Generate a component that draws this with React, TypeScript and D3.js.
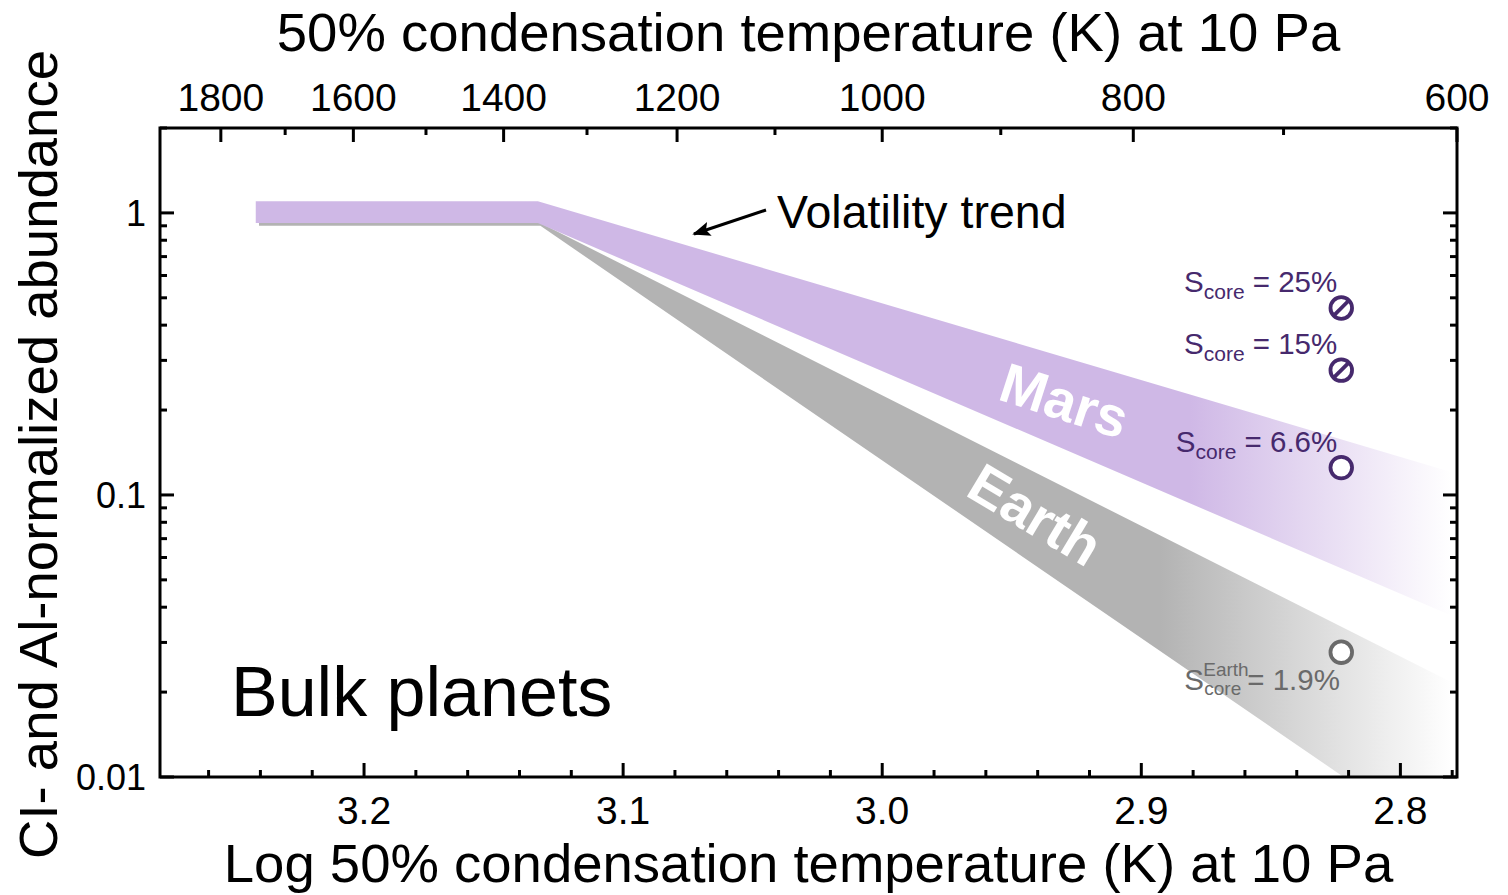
import React from "react";
import * as d3 from "d3";

// ---------- data ----------
// band edges: [condensation temperature (K), CI- and Al-normalized abundance]
const marsUpper: [number, number][] = [[1745, 1.1], [1358, 1.1], [600, 0.119]];
const marsLower: [number, number][] = [[1745, 0.92], [1358, 0.92], [600, 0.0366]];
const earthUpper: [number, number][] = [[1740, 0.92], [1355, 0.92], [600, 0.0212]];
const earthLower: [number, number][] = [[1740, 0.9], [1355, 0.9], [600, 0.0053]];

// sulfur-in-core markers at T ~ 665 K
const marsMarkerT = [665, 665, 665];
const marsMarkerV = [0.46, 0.277, 0.125];
const marsMarkerLabel = ["25%", "15%", "6.6%"];
const marsMarkerSlash = [true, true, false];
const earthMarkerT = 665;
const earthMarkerV = 0.0277;
const earthMarkerLabel = "1.9%";

// ticks
const topMajorT = [1800, 1600, 1400, 1200, 1000, 800, 600];
const topMinorT = [1700, 1500, 1300, 1100, 900, 700];
const bottomMajorLog = [3.2, 3.1, 3.0, 2.9, 2.8];
const bottomMinorLog = [3.26, 3.24, 3.22, 3.18, 3.16, 3.14, 3.12, 3.08, 3.06, 3.04, 3.02, 2.98, 2.96, 2.94, 2.92, 2.88, 2.86, 2.84, 2.82, 2.78];
const yMajor = [0.01, 0.1, 1];
const yMajorLabels = ["0.01", "0.1", "1"];
const yMinor = [0.02, 0.03, 0.04, 0.05, 0.06, 0.07, 0.08, 0.09, 0.2, 0.3, 0.4, 0.5, 0.6, 0.7, 0.8, 0.9, 2];

// ---------- layout ----------
const W = 1508, H = 895;
const L = 160, R = 1457, T = 128, B = 777;
const FONT = "'Liberation Sans', Arial, Helvetica, sans-serif";
const PURPLE = "#cfb8e6";
const GRAY = "#b3b3b3";
const DARK_PURPLE = "#46296d";
const DARK_GRAY = "#6a6a6a";

export default function App() {
  const x = d3.scaleLog().domain([1900, 600]).range([L, R]);
  const y = d3.scaleLog().domain([0.01, 2]).range([B, T]);
  const xl = (lg: number) => x(Math.pow(10, lg));

  const band = (up: [number, number][], lo: [number, number][]) =>
    d3
      .area<number>()
      .x((i) => x(up[i][0]))
      .y0((i) => y(lo[i][1]))
      .y1((i) => y(up[i][1]))(up.map((_, i) => i)) as string;

  const major = 14, minor = 7;
  const r = 10.8;

  return (
    <div style={{ position: "fixed", left: 0, top: 0 }}>
      <svg width={W} height={H} style={{ display: "block", background: "#fff" }} fontFamily={FONT}>
        <defs>
          <clipPath id="plot">
            <rect x={L} y={T} width={R - L} height={B - T} />
          </clipPath>
          <linearGradient id="marsGrad" gradientUnits="userSpaceOnUse" x1={1190} x2={1452} y1={0} y2={0}>
            <stop offset="0" stopColor={PURPLE} stopOpacity={1} />
            <stop offset="1" stopColor={PURPLE} stopOpacity={0} />
          </linearGradient>
          <linearGradient id="earthGrad" gradientUnits="userSpaceOnUse" x1={1160} x2={1452} y1={0} y2={0}>
            <stop offset="0" stopColor={GRAY} stopOpacity={1} />
            <stop offset="1" stopColor={GRAY} stopOpacity={0} />
          </linearGradient>
          <marker id="arrowHead" viewBox="0 0 10 10" refX={9} refY={5} markerWidth={6} markerHeight={6} markerUnits="strokeWidth" orient="auto">
            <path d="M0,1 L10,5 L0,9 L2,5 Z" fill="#000" />
          </marker>
        </defs>

        <g clipPath="url(#plot)">
          <path d={band(earthUpper, earthLower)} fill="url(#earthGrad)" />
          <path d={band(marsUpper, marsLower)} fill="url(#marsGrad)" />
        </g>

        {/* band labels */}
        <text x={1063} y={420} fill="#fff" fontWeight="bold" fontSize={56} textAnchor="middle" transform="rotate(18 1063 405)">Mars</text>
        <text x={1035} y={534} fill="#fff" fontWeight="bold" fontSize={56} textAnchor="middle" transform="rotate(31 1035 515)">Earth</text>

        {/* markers */}
        {marsMarkerV.map((v, i) => {
          const cx = x(marsMarkerT[i]), cy = y(v);
          return (
            <g key={i}>
              <circle cx={cx} cy={cy} r={r} fill="#fff" stroke={DARK_PURPLE} strokeWidth={3.8} />
              {marsMarkerSlash[i] && (
                <line x1={cx - r * 0.72} y1={cy + r * 0.72} x2={cx + r * 0.72} y2={cy - r * 0.72} stroke={DARK_PURPLE} strokeWidth={3.8} />
              )}
              <text x={cx - 4} y={cy - 16} fill={DARK_PURPLE} fontSize={29.5} textAnchor="end">
                <tspan>S</tspan>
                <tspan fontSize={21} dy={7}>core</tspan>
                <tspan dy={-7}>{" = " + marsMarkerLabel[i]}</tspan>
              </text>
            </g>
          );
        })}
        {(() => {
          const cx = x(earthMarkerT), cy = y(earthMarkerV);
          return (
            <g>
              <circle cx={cx} cy={cy} r={r} fill="#fff" stroke={DARK_GRAY} strokeWidth={3.8} />
              <text fill={DARK_GRAY} fontSize={29.5}>
                <tspan x={cx - 157} y={cy + 38}>S</tspan>
                <tspan x={cx - 138} y={cy + 24} fontSize={19}>Earth</tspan>
                <tspan x={cx - 137} y={cy + 43} fontSize={19}>core</tspan>
                <tspan x={cx - 94} y={cy + 38}>{"= " + earthMarkerLabel}</tspan>
              </text>
            </g>
          );
        })()}

        {/* annotations */}
        <line x1={766} y1={210} x2={694} y2={234} stroke="#000" strokeWidth={3} markerEnd="url(#arrowHead)" />
        <text x={777} y={228} fontSize={46.5} fill="#000">Volatility trend</text>
        <text x={231} y={716} fontSize={70} fill="#000">Bulk planets</text>

        {/* frame */}
        <rect x={L} y={T} width={R - L} height={B - T} fill="none" stroke="#000" strokeWidth={3} />

        {/* top axis */}
        {topMajorT.map((t) => (
          <g key={"tM" + t}>
            <line x1={x(t)} x2={x(t)} y1={T} y2={T + major} stroke="#000" strokeWidth={3} />
            <text x={x(t)} y={111} fontSize={39} textAnchor="middle">{t}</text>
          </g>
        ))}
        {topMinorT.map((t) => (
          <line key={"tm" + t} x1={x(t)} x2={x(t)} y1={T} y2={T + minor} stroke="#000" strokeWidth={3} />
        ))}

        {/* bottom axis */}
        {bottomMajorLog.map((v) => (
          <g key={"bM" + v}>
            <line x1={xl(v)} x2={xl(v)} y1={B} y2={B - major} stroke="#000" strokeWidth={3} />
            <text x={xl(v)} y={824} fontSize={39} textAnchor="middle">{v.toFixed(1)}</text>
          </g>
        ))}
        {bottomMinorLog.map((v) => (
          <line key={"bm" + v} x1={xl(v)} x2={xl(v)} y1={B} y2={B - minor} stroke="#000" strokeWidth={3} />
        ))}

        {/* y axes */}
        {yMajor.map((v, i) => (
          <g key={"yM" + v}>
            <line x1={L} x2={L + major} y1={y(v)} y2={y(v)} stroke="#000" strokeWidth={3} />
            <line x1={R} x2={R - major} y1={y(v)} y2={y(v)} stroke="#000" strokeWidth={3} />
            <text x={146} y={y(v) + 13} fontSize={36} textAnchor="end">{yMajorLabels[i]}</text>
          </g>
        ))}
        {yMinor.map((v) => (
          <g key={"ym" + v}>
            <line x1={L} x2={L + minor} y1={y(v)} y2={y(v)} stroke="#000" strokeWidth={3} />
            <line x1={R} x2={R - minor} y1={y(v)} y2={y(v)} stroke="#000" strokeWidth={3} />
          </g>
        ))}

        {/* titles */}
        <text x={(L + R) / 2} y={51} fontSize={54.5} textAnchor="middle">50% condensation temperature (K) at 10 Pa</text>
        <text x={(L + R) / 2} y={882} fontSize={54.5} textAnchor="middle">Log 50% condensation temperature (K) at 10 Pa</text>
        <text transform={`translate(57 ${(T + B) / 2 + 2}) rotate(-90)`} fontSize={54.5} textAnchor="middle">CI- and Al-normalized abundance</text>
      </svg>
    </div>
  );
}
